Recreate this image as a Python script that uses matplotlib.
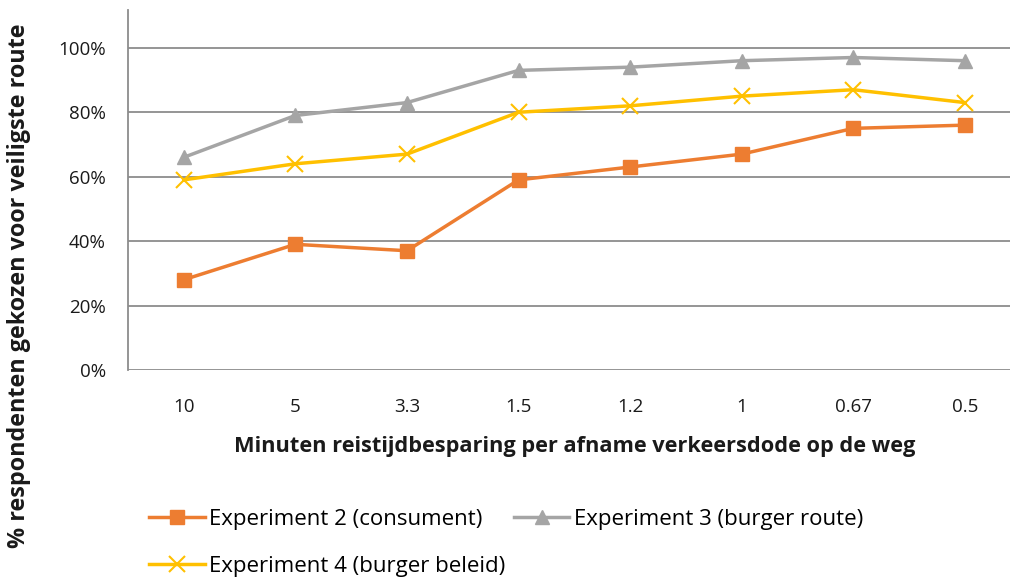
import matplotlib
matplotlib.use('Agg')
import matplotlib.pyplot as plt
from matplotlib.ticker import PercentFormatter

# data
categories = ['10', '5', '3.3', '1.5', '1.2', '1', '0.67', '0.5']
exp2 = [0.28, 0.39, 0.37, 0.59, 0.63, 0.67, 0.75, 0.76]
exp3 = [0.66, 0.79, 0.83, 0.93, 0.94, 0.96, 0.97, 0.96]
exp4 = [0.59, 0.64, 0.67, 0.80, 0.82, 0.85, 0.87, 0.83]
yticks = [0, 0.2, 0.4, 0.6, 0.8, 1.0]

plt.rcParams['font.family'] = ['Open Sans', 'DejaVu Sans']

fig = plt.figure(figsize=(10.10, 5.78), dpi=100)
ax = fig.add_axes([0.1267, 0.36, 0.884, 0.623])

xs = list(range(len(categories)))
ax.plot(xs, exp2, color='#ED7D31', lw=2.5, marker='s', ms=10, label='Experiment 2 (consument)')
ax.plot(xs, exp3, color='#A5A5A5', lw=2.5, marker='^', ms=10, label='Experiment 3 (burger route)')
ax.plot(xs, exp4, color='#FFC000', lw=2.5, marker='x', ms=11, mew=1.5, label='Experiment 4 (burger beleid)')

ax.set_xlim(-0.5, 7.5)
ax.set_ylim(0, 1.118)
ax.set_yticks(yticks)
ax.yaxis.set_major_formatter(PercentFormatter(1.0, decimals=0))
ax.set_xticks(xs)
ax.set_xticklabels(categories)
ax.grid(axis='y', color='#8c8c8c', lw=1.3)
ax.set_axisbelow(True)
for s in ['top', 'right', 'bottom']:
    ax.spines[s].set_visible(False)
ax.spines['left'].set_color('#8c8c8c')
ax.spines['left'].set_linewidth(1.3)
ax.tick_params(axis='both', length=0, labelsize=13.5, colors='#1a1a1a')
ax.tick_params(axis='x', pad=20)
ax.tick_params(axis='y', pad=16)

fig.text(0.569, 0.228, 'Minuten reistijdbesparing per afname verkeersdode op de weg',
         ha='center', va='center', fontsize=15.7, fontweight='bold', color='#1a1a1a')
fig.text(0.019, 0.505, '% respondenten gekozen voor veiligste route', rotation=90,
         ha='center', va='center', fontsize=16.8, fontweight='bold', color='#1a1a1a')

h, l = ax.get_legend_handles_labels()
fig.legend(h[:2], l[:2], loc='center left', bbox_to_anchor=(0.128, 0.102), ncol=2,
           frameon=False, fontsize=16, handlelength=2.5, columnspacing=1.4, handletextpad=0.2)
fig.legend(h[2:], l[2:], loc='center left', bbox_to_anchor=(0.128, 0.02),
           frameon=False, fontsize=16, handlelength=2.5, handletextpad=0.2)

plt.savefig('out.png', dpi=100)
